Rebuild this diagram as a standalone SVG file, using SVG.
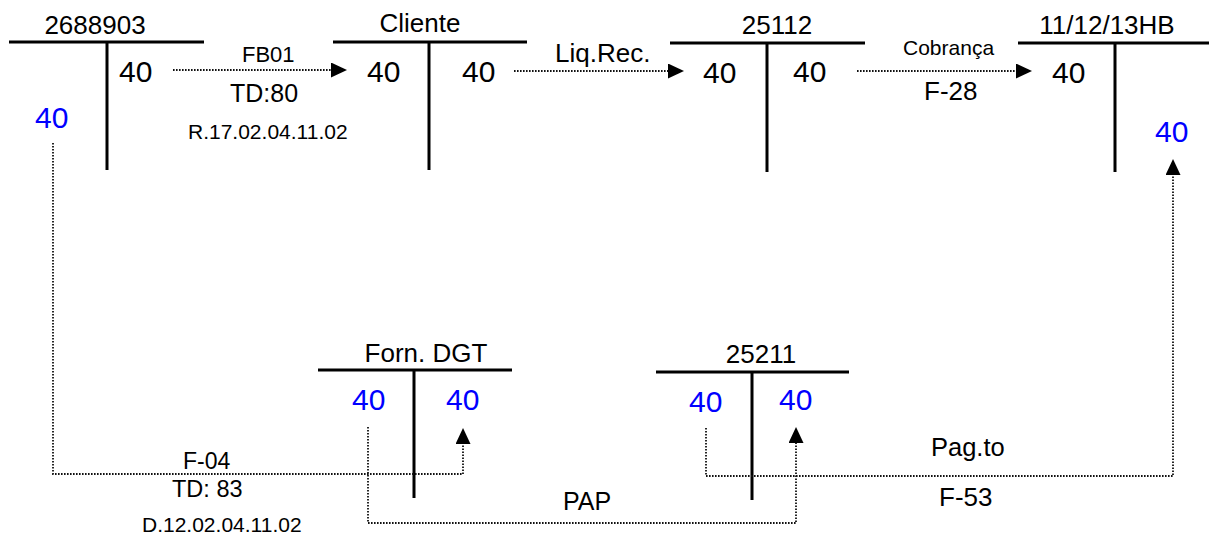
<svg xmlns="http://www.w3.org/2000/svg" width="1209" height="534" viewBox="0 0 1209 534">
<style>
text{font-family:"Liberation Sans",Arial,sans-serif;fill:#000}
.title{font-size:26px;text-anchor:middle}
.num{font-size:30px}
.blue{fill:#0000ff}
.tline{stroke:#000;stroke-width:3;fill:none}
.conn{stroke:#111;stroke-width:1.8;stroke-dasharray:1.6 1.4;fill:none}
</style>
<defs>
<marker id="arr" markerUnits="userSpaceOnUse" viewBox="0 0 16 15" refX="0" refY="7.5" markerWidth="16" markerHeight="15" orient="auto">
<path d="M0,0 L16,7.5 L0,15 z" fill="#000"/>
</marker>
</defs>
<rect width="1209" height="534" fill="#fff"/>

<g id="acct-2688903">
<text class="title" x="95" y="34">2688903</text>
<path class="tline" d="M9,42 H204 M107,42 V170"/>
<text class="num" x="119" y="82">40</text>
<text class="num blue" x="35" y="128">40</text>
</g>

<g id="acct-cliente">
<text class="title" x="420" y="32">Cliente</text>
<path class="tline" d="M333,42 H527 M429,42 V170"/>
<text class="num" x="367" y="82">40</text>
<text class="num" x="462" y="82">40</text>
</g>

<g id="acct-25112">
<text class="title" x="777" y="34">25112</text>
<path class="tline" d="M670,43 H865 M767,43 V172"/>
<text class="num" x="703" y="83">40</text>
<text class="num" x="793" y="82">40</text>
</g>

<g id="acct-111213HB">
<text class="title" x="1107" y="34">11/12/13HB</text>
<path class="tline" d="M1018,43 H1209 M1115,43 V172"/>
<text class="num" x="1052" y="83">40</text>
<text class="num blue" x="1155" y="142">40</text>
</g>

<g id="acct-forn-dgt">
<text class="title" x="426" y="362">Forn. DGT</text>
<path class="tline" d="M318,370 H512 M414,370 V498"/>
<text class="num blue" x="352" y="410">40</text>
<text class="num blue" x="446" y="410">40</text>
</g>

<g id="acct-25211">
<text class="title" x="761" y="363">25211</text>
<path class="tline" d="M656,372 H849 M752,372 V500"/>
<text class="num blue" x="689" y="412">40</text>
<text class="num blue" x="779" y="410">40</text>
</g>

<g id="connectors">
<path class="conn" d="M173,70 H331" marker-end="url(#arr)"/>
<path class="conn" d="M514,71 H668" marker-end="url(#arr)"/>
<path class="conn" d="M857,71 H1016" marker-end="url(#arr)"/>
<path class="conn" d="M53,143 V474 H463 V444" marker-end="url(#arr)"/>
<path class="conn" d="M368,427 V523 H796 V443" marker-end="url(#arr)"/>
<path class="conn" d="M706,428 V476 H1173 V175" marker-end="url(#arr)"/>
</g>

<g id="labels">
<text x="242" y="62" font-size="22">FB01</text>
<text x="230" y="102" font-size="25">TD:80</text>
<text x="188" y="139" font-size="21">R.17.02.04.11.02</text>
<text x="555" y="62" font-size="26">Liq.Rec.</text>
<text x="903" y="55" font-size="21">Cobrança</text>
<text x="924" y="100" font-size="26">F-28</text>
<text x="183" y="469" font-size="23">F-04</text>
<text x="172" y="497" font-size="23.5">TD: 83</text>
<text x="142" y="532" font-size="21">D.12.02.04.11.02</text>
<text x="563" y="510" font-size="25">PAP</text>
<text x="931" y="456" font-size="25.5">Pag.to</text>
<text x="939" y="506" font-size="26">F-53</text>
</g>
</svg>
